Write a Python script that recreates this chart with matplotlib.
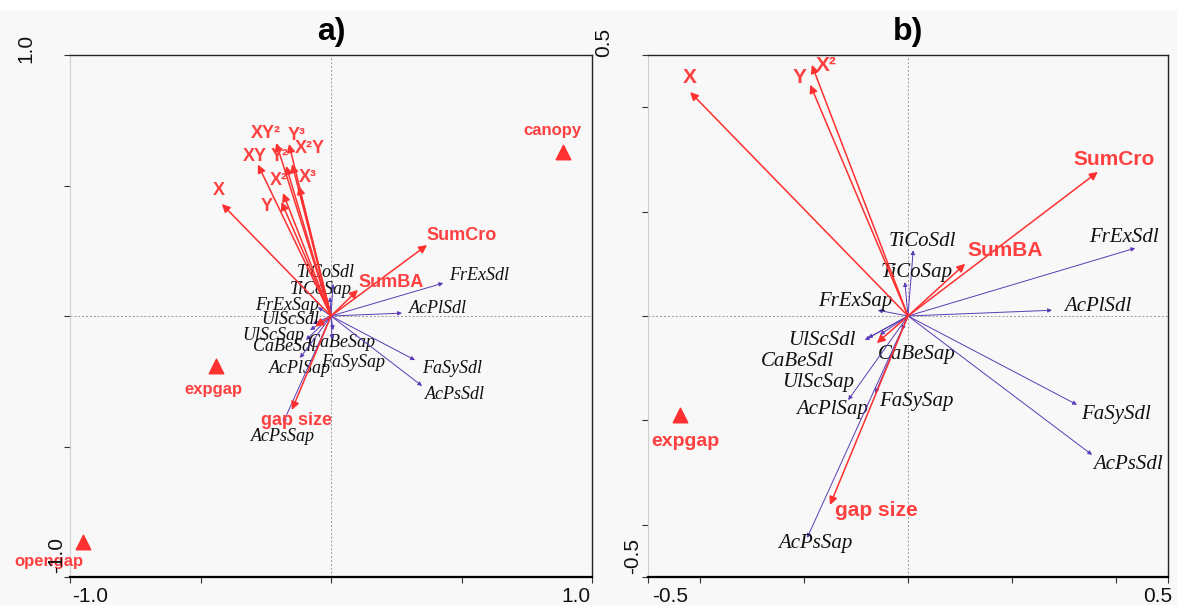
import numpy as np
import matplotlib
matplotlib.use("Agg")
import matplotlib.pyplot as plt
from matplotlib.patches import Rectangle

# ---- panel a) data ----
a_env_names = ["X", "XY", "XY\u00b2", "Y\u00b3", "X\u00b2Y", "Y\u00b2", "X\u00b2", "X\u00b3", "Y",
               "SumCro", "SumBA", "gap size", ""]
a_env_x = [-0.418, -0.28, -0.21, -0.161, -0.149, -0.172, -0.184, -0.123, -0.19, 0.368, 0.103, -0.15, -0.06]
a_env_y = [0.429, 0.58, 0.663, 0.659, 0.582, 0.575, 0.471, 0.498, 0.437, 0.272, 0.10, -0.36, -0.04]
a_env_lx = [-0.43, -0.29, -0.25, -0.13, -0.08, -0.195, -0.20, -0.09, -0.245, 0.50, 0.23, -0.134, 0]
a_env_ly = [0.48, 0.61, 0.70, 0.69, 0.64, 0.61, 0.52, 0.53, 0.42, 0.31, 0.13, -0.40, 0]

a_cent_names = ["canopy", "expgap", "opengap"]
a_cent_x = [0.89, -0.44, -0.95]
a_cent_y = [0.63, -0.19, -0.866]
a_cent_lx = [0.85, -0.45, -1.08]
a_cent_ly = [0.71, -0.28, -0.94]

a_sp_names = ["TiCoSdl", "TiCoSap", "FrExSap", "UlScSdl", "UlScSap", "CaBeSdl", "CaBeSap",
              "AcPlSap", "FaSySap", "AcPsSap", "FrExSdl", "AcPlSdl", "FaSySdl", "AcPsSdl"]
a_sp_x = [0.008, -0.004, -0.05, -0.07, -0.08, -0.096, 0.008, -0.119, 0.004, -0.184, 0.43, 0.272, 0.322, 0.349]
a_sp_y = [0.123, 0.073, 0.034, -0.03, -0.054, -0.092, -0.054, -0.161, -0.09, -0.41, 0.126, 0.011, -0.169, -0.268]
a_sp_lx = [-0.02, -0.04, -0.17, -0.157, -0.22, -0.18, 0.042, -0.119, 0.084, -0.184, 0.567, 0.41, 0.464, 0.475]
a_sp_ly = [0.165, 0.10, 0.042, -0.015, -0.073, -0.115, -0.103, -0.203, -0.18, -0.46, 0.157, 0.03, -0.20, -0.30]

# ---- panel b) data ----
b_env_names = ["X", "Y", "X\u00b2", "SumCro", "SumBA", "gap size", ""]
b_env_x = [-0.419, -0.188, -0.185, 0.365, 0.11, -0.15, -0.06]
b_env_y = [0.429, 0.443, 0.481, 0.276, 0.10, -0.362, -0.052]
b_env_lx = [-0.419, -0.208, -0.158, 0.396, 0.187, -0.06, 0]
b_env_ly = [0.456, 0.456, 0.479, 0.299, 0.125, -0.372, 0]

b_cent_names = ["expgap"]
b_cent_x = [-0.438]
b_cent_y = [-0.19]
b_cent_lx = [-0.429]
b_cent_ly = [-0.241]

b_sp_names = a_sp_names
b_sp_x = [0.01, -0.006, -0.058, -0.083, -0.054, -0.077, -0.012, -0.115, -0.063, -0.194, 0.437, 0.277, 0.325, 0.354]
b_sp_y = [0.126, 0.065, 0.011, -0.046, -0.036, -0.042, -0.027, -0.161, -0.148, -0.425, 0.13, 0.011, -0.17, -0.266]
b_sp_lx = [0.027, 0.017, -0.102, -0.165, -0.173, -0.213, 0.017, -0.146, 0.017, -0.179, 0.415, 0.365, 0.40, 0.423]
b_sp_ly = [0.142, 0.084, 0.027, -0.046, -0.128, -0.088, -0.073, -0.18, -0.163, -0.435, 0.151, 0.019, -0.188, -0.285]

RED = "#ff3030"
RED_TXT = "#ff4040"
BLUE = "#5a3cb4"
BG = "#f8f8f8"


def draw_panel(ax, lim, minor, env, cent, sp, env_fs, sp_fs, title):
    ax.set_facecolor(BG)
    ax.set_xlim(-lim, lim)
    ax.set_ylim(-lim, lim)
    ax.axhline(0, color="#999999", ls=(0, (2, 2)), lw=0.7, zorder=0)
    ax.axvline(0, color="#999999", ls=(0, (2, 2)), lw=0.7, zorder=0)

    # species arrows
    names, xs, ys, lxs, lys = sp
    for n, x, y, lx, ly in zip(names, xs, ys, lxs, lys):
        ax.annotate("", xy=(x, y), xytext=(0, 0),
                    arrowprops=dict(arrowstyle="-|>", color=BLUE, lw=0.7,
                                    mutation_scale=6, shrinkA=0, shrinkB=0))
        ax.text(lx, ly, n, ha="center", va="center", fontsize=sp_fs,
                family="Liberation Serif", style="italic", color="#111111")

    # environmental arrows
    names, xs, ys, lxs, lys = env
    for n, x, y, lx, ly in zip(names, xs, ys, lxs, lys):
        ax.annotate("", xy=(x, y), xytext=(0, 0),
                    arrowprops=dict(arrowstyle="-|>", color=RED, lw=1.1,
                                    mutation_scale=12, shrinkA=0, shrinkB=0))
        if n:
            ax.text(lx, ly, n, ha="center", va="center", fontsize=env_fs,
                    family="Liberation Sans", weight="bold", color=RED_TXT)

    # centroids
    names, xs, ys, lxs, lys = cent
    ax.scatter(xs, ys, marker="^", s=110, color=RED, zorder=5, clip_on=False)
    for n, lx, ly in zip(names, lxs, lys):
        ax.text(lx, ly, n, ha="center", va="center", fontsize=env_fs - 1,
                family="Liberation Sans", weight="bold", color=RED_TXT)

    ax.set_xticks(minor)
    ax.set_yticks(minor)
    ax.set_xticklabels([])
    ax.set_yticklabels([])
    ax.tick_params(direction="out", length=4, width=0.8, color="#333333")
    for s in ["top", "right"]:
        ax.spines[s].set_color("#222222")
        ax.spines[s].set_linewidth(1.0)
    ax.spines["left"].set_color("#cfcfcf")
    ax.spines["left"].set_linewidth(0.8)
    ax.spines["bottom"].set_color("#000000")
    ax.spines["bottom"].set_linewidth(1.6)

    ax.set_title(title, fontsize=23, weight="bold", family="Liberation Sans", pad=11)


fig = plt.figure(figsize=(11.77, 6.05), dpi=100, facecolor=BG)
fig.patches.append(Rectangle((0, 1 - 11 / 605), 1, 11 / 605, transform=fig.transFigure,
                             facecolor="white", edgecolor="none", zorder=-10))

ax_a = fig.add_axes([70 / 1177, 1 - 577 / 605, 522 / 1177, 522 / 605])
ax_b = fig.add_axes([648 / 1177, 1 - 577 / 605, 520 / 1177, 522 / 605])

draw_panel(ax_a, 1.0, [-1.0, -0.5, 0, 0.5, 1.0],
           (a_env_names, a_env_x, a_env_y, a_env_lx, a_env_ly),
           (a_cent_names, a_cent_x, a_cent_y, a_cent_lx, a_cent_ly),
           (a_sp_names, a_sp_x, a_sp_y, a_sp_lx, a_sp_ly), 13, 13, "a)")
draw_panel(ax_b, 0.5, [-0.5, -0.4, -0.2, 0, 0.2, 0.4, 0.5],
           (b_env_names, b_env_x, b_env_y, b_env_lx, b_env_ly),
           (b_cent_names, b_cent_x, b_cent_y, b_cent_lx, b_cent_ly),
           (b_sp_names, b_sp_x, b_sp_y, b_sp_lx, b_sp_ly), 15, 15, "b)")

# axis extreme labels, placed like in the original
tk = dict(fontsize=15, family="Liberation Sans", color="#111111")


def px(x, y):
    return x / 1177, 1 - y / 605


fig.text(*px(90, 596), "-1.0", ha="center", va="center", **tk)
fig.text(*px(576, 596), "1.0", ha="center", va="center", **tk)
fig.text(*px(670, 596), "-0.5", ha="center", va="center", **tk)
fig.text(*px(1158, 596), "0.5", ha="center", va="center", **tk)
fig.text(*px(26, 48), "1.0", ha="center", va="center", rotation=90, **tk)
fig.text(*px(57, 555), "-1.0", ha="center", va="center", rotation=90, **tk)
fig.text(*px(604, 42), "0.5", ha="center", va="center", rotation=90, **tk)
fig.text(*px(633, 556), "-0.5", ha="center", va="center", rotation=90, **tk)

fig.savefig("out.png", dpi=100, facecolor=BG)
